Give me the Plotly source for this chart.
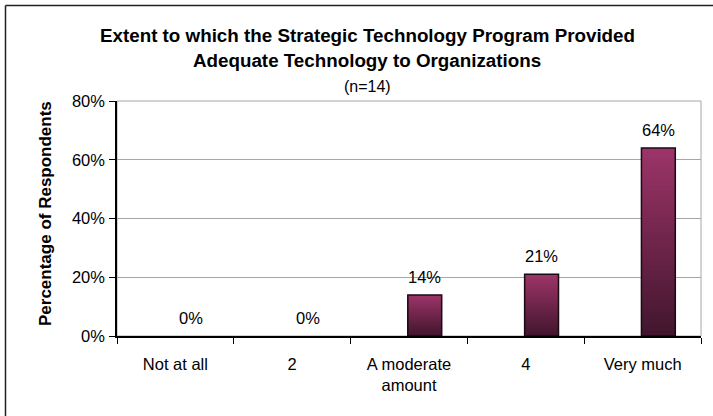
import plotly.graph_objects as go

categories = ["Not at all", "2", "A moderate<br>amount", "4", "Very much"]
values = [0.00, 0.00, 0.14, 0.21, 0.64]
value_labels = ["0%", "0%", "14%", "21%", "64%"]
y_ticks = [0, 0.2, 0.4, 0.6, 0.8]
y_tick_labels = ["0%", "20%", "40%", "60%", "80%"]

title_lines = ["Extent to which the Strategic Technology Program Provided",
               "Adequate Technology to Organizations"]
subtitle = "(n=14)"
y_title = "Percentage of Respondents"

W, H = 713, 416
L, R, T, B = 117, 12, 101, 80
PW, PH = W - L - R, H - T - B

def px_x(x):
    return (x - L) / PW

def px_y(y):
    return (H - B - y) / PH

FONT = "Liberation Sans, Arial, sans-serif"
BAR_W = 0.29
BAR_OFF = -0.01
N_SEG = 40
top_rgb = (156, 52, 104)
bot_rgb = (66, 22, 46)

fig = go.Figure()

# gradient fill: nested bars from full height (light) to shortest (dark), drawn in order
for k in range(N_SEG):
    f = k / (N_SEG - 1)
    c = tuple(round(t + (b - t) * f) for t, b in zip(top_rgb, bot_rgb))
    fig.add_bar(
        x=categories,
        y=[v * (N_SEG - k) / N_SEG for v in values],
        width=BAR_W, offset=BAR_OFF,
        marker=dict(color="rgb(%d,%d,%d)" % c, line=dict(width=0)),
        hoverinfo="skip", showlegend=False,
    )

# outline
fig.add_bar(
    x=categories, y=values,
    width=BAR_W, offset=BAR_OFF,
    marker=dict(color="rgba(0,0,0,0)",
                line=dict(color="#1a0a12", width=[1.5 if v > 0 else 0 for v in values])),
    showlegend=False,
)

annotations = []
for i, (v, t) in enumerate(zip(values, value_labels)):
    annotations.append(dict(
        x=i, y=v, xref="x", yref="y", text=t, showarrow=False,
        xanchor="center", yanchor="middle",
        xshift=BAR_W * PW / 5 / 2 + BAR_OFF * PW / 5, yshift=18,
        font=dict(family=FONT, size=16.5, color="black"),
    ))

annotations.append(dict(x=px_x(367), y=px_y(36), xref="paper", yref="paper",
                        xanchor="center", yanchor="middle",
                        text="<b>%s</b>" % title_lines[0], showarrow=False,
                        font=dict(family=FONT, size=18.8, color="black")))
annotations.append(dict(x=px_x(367), y=px_y(60), xref="paper", yref="paper",
                        xanchor="center", yanchor="middle",
                        text="<b>%s</b>" % title_lines[1], showarrow=False,
                        font=dict(family=FONT, size=18.8, color="black")))
annotations.append(dict(x=px_x(367), y=px_y(86), xref="paper", yref="paper",
                        xanchor="center", yanchor="middle",
                        text=subtitle, showarrow=False,
                        font=dict(family=FONT, size=16, color="black")))
annotations.append(dict(x=px_x(45), y=px_y(214), xref="paper", yref="paper",
                        xanchor="center", yanchor="middle",
                        text="<b>%s</b>" % y_title, showarrow=False, textangle=-90,
                        font=dict(family=FONT, size=17, color="black")))

shapes = [
    # plot area border (gray)
    dict(type="rect", xref="paper", yref="paper", x0=0, x1=1, y0=0, y1=1,
         line=dict(color="#a6a6a6", width=1), layer="below"),
    # outer chart frame (left and top edges visible)
    dict(type="line", xref="paper", yref="paper",
         x0=px_x(5.5), x1=px_x(5.5), y0=px_y(H + 50), y1=px_y(5.5),
         line=dict(color="#202020", width=1.5), layer="above"),
    dict(type="line", xref="paper", yref="paper",
         x0=px_x(5.5), x1=px_x(W + 50), y0=px_y(5.5), y1=px_y(5.5),
         line=dict(color="#202020", width=1.5), layer="above"),
]

fig.update_layout(
    width=W, height=H,
    margin=dict(l=L, r=R, t=T, b=B, pad=0),
    barmode="overlay",
    paper_bgcolor="white", plot_bgcolor="white",
    font=dict(family=FONT, size=16.5, color="black"),
    annotations=annotations, shapes=shapes,
    showlegend=False,
)
fig.update_xaxes(
    type="category", showline=True, linecolor="black", linewidth=1.5,
    ticks="outside", ticklen=6, tickcolor="black", tickwidth=1,
    tickson="boundaries", showgrid=False, ticklabelstandoff=12,
    tickfont=dict(family=FONT, size=16.5, color="black"),
)
fig.update_yaxes(
    range=[0, 0.8], tickvals=y_ticks, ticktext=y_tick_labels,
    showline=True, linecolor="black", linewidth=1.5,
    ticks="outside", ticklen=6, tickcolor="black", tickwidth=1,
    showgrid=True, gridcolor="#a6a6a6", gridwidth=1, zeroline=False,
    ticklabelstandoff=1,
    tickfont=dict(family=FONT, size=16.5, color="black"),
)

fig.write_html("out.html", config={"displayModeBar": False},
               post_script="document.body.style.margin='0';")
